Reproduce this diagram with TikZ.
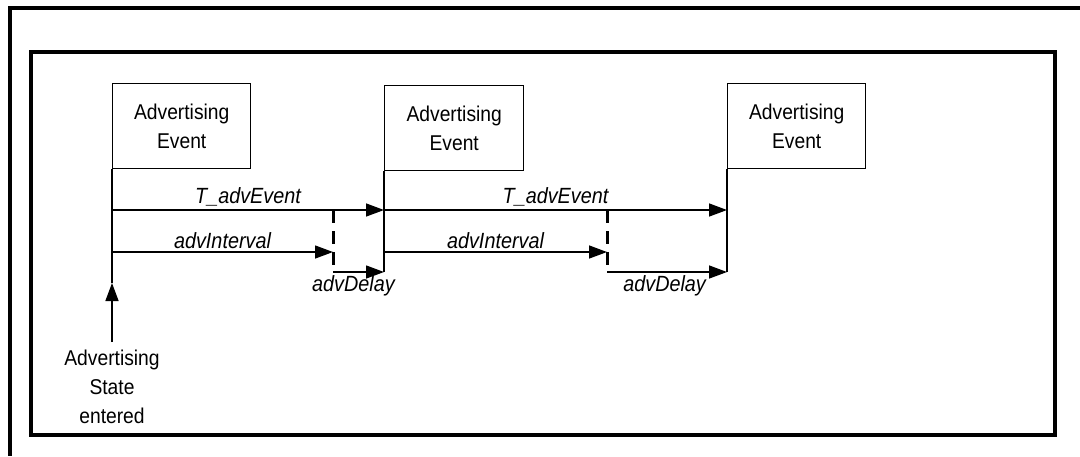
\documentclass[tikz,border=0pt]{standalone}
\usepackage{fontspec}
\setmainfont[FakeStretch=0.9]{Liberation Sans}
\usetikzlibrary{arrows.meta}

\tikzset{
  >={Triangle[length=9pt,width=6.5pt]},
  frame/.style={line width=1.8pt},
  evbox/.style={draw, line width=0.7pt, anchor=north west, align=center,
    minimum width=69pt, minimum height=42.5pt, inner sep=0pt},
  tline/.style={line width=0.7pt},
  delayline/.style={line width=1.5pt, dash pattern=on 6.5pt off 4pt},
  lbl/.style={font=\fontsize{11}{14}\selectfont\itshape, inner sep=1.5pt}
}

\begin{document}
\begin{tikzpicture}[x=0.5pt, y=-0.5pt, font=\fontsize{10.7}{14.5}\selectfont]
    \useasboundingbox (0,0) rectangle (1080,456);

    % frames
    \draw[frame] (1080,8) -- (10,8) -- (10,456);
    \draw[frame] (31,52) rectangle (1055,435);

    % advertising events
    \node[evbox] (ev1) at (112,83) {Advertising\\Event};
    \node[evbox, minimum width=69.5pt] (ev2) at (384,85) {Advertising\\Event};
    \node[evbox] (ev3) at (727,83) {Advertising\\Event};

    % time marks
    \coordinate (entry) at (112,283);
    \coordinate (entrytail) at (112,342);
    \coordinate (ev2end) at (384,272);
    \coordinate (ev3end) at (727,272);

    \coordinate (t1s) at (112,210);
    \coordinate (t1e) at (384,210);
    \coordinate (t2e) at (727,210);
    \coordinate (i1s) at (112,252);
    \coordinate (i1e) at (333,252);
    \coordinate (i2s) at (384,252);
    \coordinate (i2e) at (607,252);
    \coordinate (d1top) at (333,210);
    \coordinate (d1s) at (333,272);
    \coordinate (d2top) at (607,210);
    \coordinate (d2s) at (607,272);

    \draw[tline] (ev1.south west) -- (entry);
    \draw[tline] (ev2.south west) -- (ev2end);
    \draw[tline] (ev3.south west) -- (ev3end);

    \draw[->, tline] (entrytail) -- (entry);
    \node[align=center] (state) at (112,387) {Advertising\\State\\entered};

    % first interval
    \draw[->, tline] (t1s) -- (t1e) node[lbl, pos=0.5, anchor=south] {T\_advEvent};
    \draw[->, tline] (i1s) -- (i1e) node[lbl, pos=0.5, anchor=south] {advInterval};
    \draw[delayline] (d1top) -- (d1s);
    \draw[->, tline] (d1s) -- (ev2end) node[lbl, pos=0.4, anchor=north] {advDelay};

    % second interval
    \draw[->, tline] (t1e) -- (t2e) node[lbl, pos=0.5, anchor=south] {T\_advEvent};
    \draw[->, tline] (i2s) -- (i2e) node[lbl, pos=0.5, anchor=south] {advInterval};
    \draw[delayline] (d2top) -- (d2s);
    \draw[->, tline] (d2s) -- (ev3end) node[lbl, pos=0.48, anchor=north] {advDelay};
\end{tikzpicture}
\end{document}
